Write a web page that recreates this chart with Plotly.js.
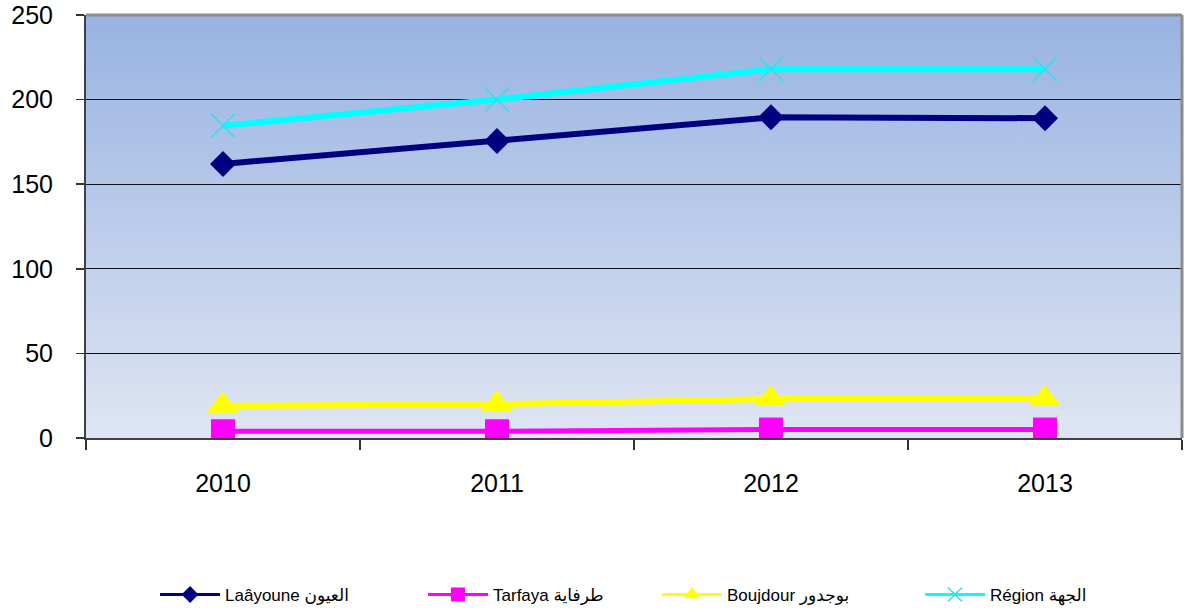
<!DOCTYPE html>
<html>
<head>
<meta charset="utf-8">
<script src="https://cdn.plot.ly/plotly-3.0.1.min.js"></script>
<style>html,body{margin:0;padding:0;background:#fff;}#chart{width:1185px;height:612px;}</style>
</head>
<body>
<div id="chart"></div>
<script>
const years = ['2010', '2011', '2012', '2013'];
const laayoune = [162, 175.5, 189.5, 189];
const tarfaya = [4, 4, 5, 5];
const boujdour = [19, 20, 23, 23];
const region = [184.5, 200, 218, 218];
const seriesNames = ['Laâyoune العيون', 'Tarfaya طرفاية', 'Boujdour بوجدور', 'Région الجهة'];
const yTicks = [0, 50, 100, 150, 200, 250];

const FONT = 'Liberation Sans, Arial, DejaVu Sans, sans-serif';

const styles = [
  {color: '#000080', lw: 6, sym: 'diamond', size: 20, lsize: 13},
  {color: '#ff00ff', lw: 5, sym: 'square', size: 24, lsize: 14},
  {color: '#ffff00', lw: 6, sym: 'triangle-up', size: 28, lsize: 15},
  {color: '#00ffff', lw: 6, sym: 'x-thin', size: 24, lsize: 14}
];
const seriesData = [laayoune, tarfaya, boujdour, region];
const legendIds = ['legend', 'legend2', 'legend3', 'legend4'];

const traces = [];
seriesData.forEach((vals, i) => {
  const s = styles[i];
  const mk = {symbol: s.sym, size: s.size, color: s.color};
  if (s.sym === 'x-thin') mk.line = {color: '#33ddee', width: 1.5};
  traces.push({x: years, y: vals, name: seriesNames[i], type: 'scatter', mode: 'lines+markers',
    line: {color: s.color, width: s.lw}, marker: mk, showlegend: false});
});
// legend-only entries (thinner lines / smaller markers as in the reference legend)
seriesData.forEach((vals, i) => {
  const s = styles[i];
  const mk = {symbol: s.sym, size: s.lsize, color: s.color};
  if (s.sym === 'x-thin') mk.line = {color: '#33ddee', width: 1.5};
  traces.push({x: years, y: vals.map(() => null), name: seriesNames[i], type: 'scatter', mode: 'lines+markers',
    line: {color: s.color, width: 3}, marker: mk, showlegend: true, legend: legendIds[i], hoverinfo: 'skip'});
});

const bg = "data:image/svg+xml;utf8," + encodeURIComponent(
  "<svg xmlns='http://www.w3.org/2000/svg' width='10' height='100' viewBox='0 0 10 100' preserveAspectRatio='none'>" +
  "<defs><linearGradient id='g' x1='0' y1='0' x2='0' y2='1'><stop offset='0' stop-color='#98b3e2'/><stop offset='1' stop-color='#dfe5f3'/></linearGradient></defs>" +
  "<rect width='10' height='100' fill='url(#g)'/></svg>");

function leg(x) {
  return {x: x, xanchor: 'left', y: -0.371, yanchor: 'middle', orientation: 'h',
          font: {family: FONT, size: 17, color: '#000'}, itemwidth: 60, bgcolor: 'rgba(0,0,0,0)'};
}

const layout = {
  width: 1185, height: 612,
  margin: {l: 86, r: 3, t: 15, b: 174, autoexpand: false},
  paper_bgcolor: '#ffffff',
  plot_bgcolor: 'rgba(0,0,0,0)',
  showlegend: true,
  font: {family: FONT, color: '#000'},
  images: [{source: bg, xref: 'paper', yref: 'paper', x: 0, y: 1, sizex: 1, sizey: 1,
            xanchor: 'left', yanchor: 'top', sizing: 'stretch', layer: 'below'}],
  xaxis: {
    type: 'category', range: [-0.5, 3.5], tickson: 'boundaries',
    ticks: 'outside', ticklen: 10, tickwidth: 1.5, tickcolor: '#333',
    showgrid: false, showline: true, linecolor: '#404040', linewidth: 2,
    tickfont: {family: FONT, size: 25, color: '#000'}, ticklabelstandoff: 22,
    fixedrange: true, automargin: false
  },
  yaxis: {
    range: [0, 250], tickvals: yTicks, ticktext: yTicks.map(String),
    ticks: 'outside', ticklen: 8, tickwidth: 1.5, tickcolor: '#333',
    showgrid: true, gridcolor: '#111', gridwidth: 1, zeroline: false,
    showline: true, linecolor: '#404040', linewidth: 2,
    tickfont: {family: FONT, size: 25, color: '#000'}, ticklabelstandoff: 18,
    fixedrange: true, automargin: false
  },
  shapes: [
    {type: 'line', xref: 'paper', yref: 'paper', x0: 0, x1: 1, y0: 1, y1: 1, line: {color: '#8c8c8c', width: 3}, layer: 'above'},
    {type: 'line', xref: 'paper', yref: 'paper', x0: 1, x1: 1, y0: 0, y1: 1, line: {color: '#8c8c8c', width: 3}, layer: 'above'}
  ],
  legend: leg(0.063),
  legend2: leg(0.3075),
  legend3: leg(0.521),
  legend4: leg(0.761)
};

Plotly.newPlot('chart', traces, layout, {displayModeBar: false, staticPlot: true});
</script>
</body>
</html>
